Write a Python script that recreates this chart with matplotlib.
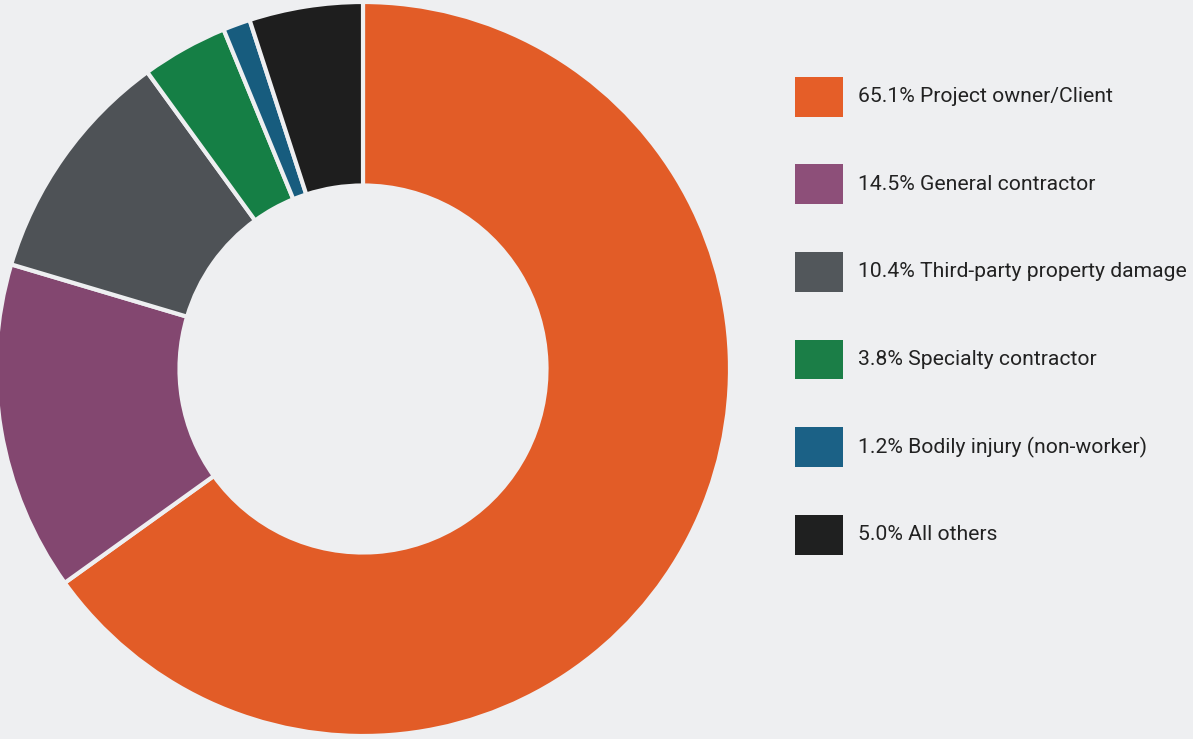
import matplotlib
matplotlib.use("Agg")
import matplotlib.pyplot as plt
from matplotlib.patches import Rectangle

# Shares of claims by source, clockwise from 12 o'clock
labels = ["Project owner/Client", "General contractor", "Third-party property damage",
          "Specialty contractor", "Bodily injury (non-worker)", "All others"]
shares = [65.1, 14.5, 10.4, 3.8, 1.2, 5.0]
wedge_colors = ["#e25c27", "#834770", "#4e5256", "#157f45", "#175c7e", "#1e1e1e"]
key_colors = ["#e55e28", "#8d4f79", "#52575b", "#1b7e47", "#1b6186", "#1f2020"]

bg = "#eeeff1"
plt.rcParams["font.family"] = ["Roboto", "DejaVu Sans"]

W, H = 1193, 739
fig = plt.figure(figsize=(W / 100, H / 100), dpi=100, facecolor=bg)
ax = fig.add_axes([-4 / W, 3 / H, 734 / W, 734 / H])
ax.set_facecolor(bg)

ax.pie(shares, colors=wedge_colors, startangle=90, counterclock=False, radius=1,
       wedgeprops=dict(width=0.5, edgecolor=bg, linewidth=3))
ax.set_xlim(-1, 1)
ax.set_ylim(-1, 1)
ax.set_aspect("equal")
ax.axis("off")

# key: square swatch + label per row (pixel layout converted to figure fraction)
sw_x, sw_w, sw_h = 795, 48, 40
row0, step = 96.7, 87.6
for i, (v, name, c) in enumerate(zip(shares, labels, key_colors)):
    yc = row0 + i * step
    fig.add_artist(Rectangle((sw_x / W, 1 - (yc + sw_h / 2) / H), sw_w / W, sw_h / H,
                             transform=fig.transFigure, facecolor=c, edgecolor="none"))
    fig.text(858 / W, 1 - yc / H, "%.1f%% %s" % (v, name), fontsize=15.2,
             color="#222222", ha="left", va="center")

fig.savefig("out.png", dpi=100, facecolor=bg)
